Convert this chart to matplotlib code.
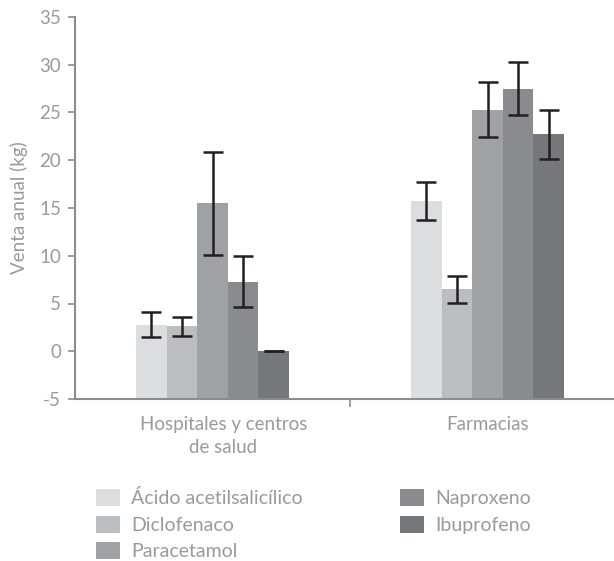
import matplotlib
matplotlib.use('Agg')
import matplotlib.pyplot as plt
import numpy as np

# data
groups = ['Hospitales y centros\nde salud', 'Farmacias']
drugs = ['Ácido acetilsalicílico', 'Diclofenaco', 'Paracetamol', 'Naproxeno', 'Ibuprofeno']
hospital = [2.8, 2.6, 15.5, 7.3, 0.0]
hospital_err = [1.3, 1.0, 5.4, 2.7, 0.0]
farmacia = [15.7, 6.5, 25.3, 27.5, 22.7]
farmacia_err = [2.0, 1.4, 2.85, 2.75, 2.55]
yticks = [-5, 0, 5, 10, 15, 20, 25, 30, 35]

colors = ['#dcdddf', '#bcbdc0', '#a0a1a4', '#8a8b8e', '#76777a']
txt = '#9a9a9c'
axc = '#8c8c8c'

plt.rcParams['font.family'] = ['Lato', 'DejaVu Sans']

fig = plt.figure(figsize=(6.14, 5.61), dpi=100)
ax = fig.add_axes([75 / 614, 1 - 399 / 561, 550 / 614, 382 / 561])

x = np.arange(len(groups))
w = 0.111
for i in range(len(drugs)):
    vals = [hospital[i], farmacia[i]]
    errs = [hospital_err[i], farmacia_err[i]]
    ax.bar(x + (i - 2) * w, np.array(vals) + 5, w, bottom=-5, color=colors[i],
           label=drugs[i], yerr=errs, capsize=7,
           error_kw=dict(ecolor='#231f20', elinewidth=1.8, capthick=1.8))

ax.set_xlim(-0.5, 1.5)
ax.set_ylim(-5, 35)
ax.set_yticks(yticks)
ax.set_yticklabels([str(t) for t in yticks], color=txt, fontsize=13.5)
ax.set_ylabel('Venta anual (kg)', color=txt, fontsize=13.5, labelpad=8)

ax.set_xticks([0.5], minor=False)
ax.set_xticklabels([''])
ax.tick_params(axis='x', length=6, color=axc, width=1.2, direction='out')
ax.tick_params(axis='y', length=5, color=axc, width=1.2, direction='out', pad=5)
for i, g in enumerate(groups):
    ax.text(i + 0.04 * (1 - i), -6.8, g, ha='center', va='top', color=txt,
            fontsize=13.5, linespacing=1.4)

for s in ['top', 'right']:
    ax.spines[s].set_visible(False)
for s in ['left', 'bottom']:
    ax.spines[s].set_color(axc)
    ax.spines[s].set_linewidth(1.5)

leg = fig.legend(loc='upper left', bbox_to_anchor=(96 / 614, 1 - 489 / 561), ncol=2,
                 frameon=False, fontsize=14, handlelength=1.25, handleheight=1.0,
                 handletextpad=0.55, columnspacing=5.0, labelspacing=0.42,
                 borderaxespad=0, borderpad=0)
for t in leg.get_texts():
    t.set_color(txt)

fig.savefig('out.png', dpi=100)
